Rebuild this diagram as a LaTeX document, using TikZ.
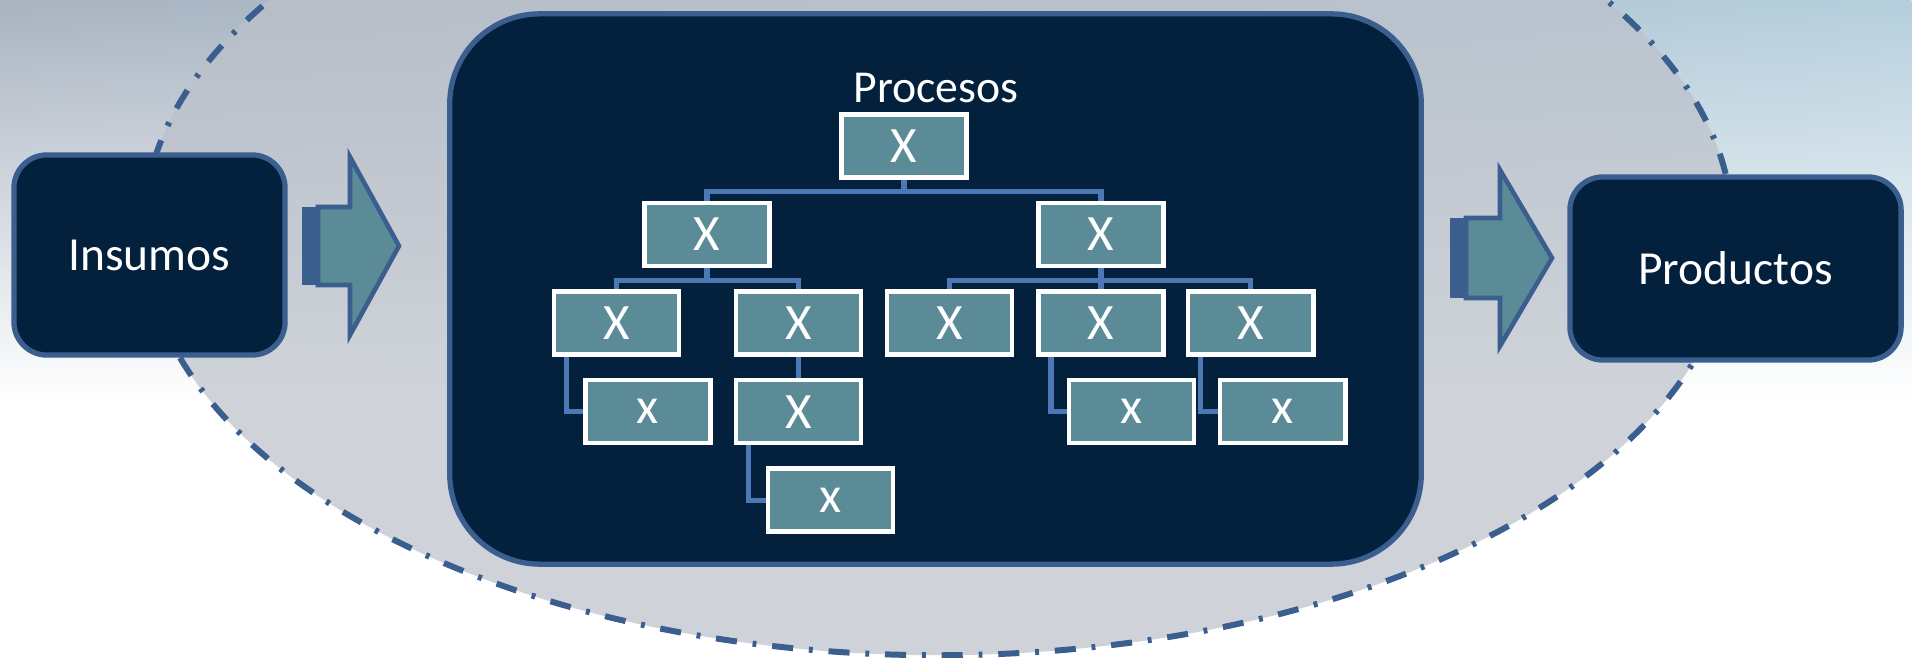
\documentclass[tikz,border=0pt]{standalone}
\usepackage{fontspec}
\setmainfont{Carlito}
\usetikzlibrary{fadings}

\definecolor{navy}{HTML}{03213C}
\definecolor{rim}{HTML}{3A5E8E}
\definecolor{tealbox}{HTML}{5A8B97}
\definecolor{linkblue}{HTML}{4C79B5}
\definecolor{bgleft}{HTML}{A9B3C1}
\definecolor{bgright}{HTML}{B6CFDD}
\definecolor{dotfill}{HTML}{BCC1CA}
\tikzfading[name=fade down, top color=transparent!0, bottom color=transparent!100]

\begin{document}
\begin{tikzpicture}[x=0.01cm, y=-0.01cm, node distance=0.885cm,
	box/.style={draw=rim, line width=1.5pt, fill=navy, rounded corners=0.33cm, text=white, font=\fontsize{13.5}{16}\selectfont},
	tbox/.style={draw=white, line width=1.3pt, fill=tealbox, minimum width=1.25cm, minimum height=0.63cm, inner sep=0pt, text=white, font=\fontsize{14.5}{16}\selectfont},
	link/.style={draw=linkblue, line width=1.5pt},
	blockarrow/.style={draw=rim, line width=1.3pt, fill=tealbox, line join=miter}]
		\useasboundingbox (0,0) rectangle (1912,658);
		\fill[white] (0,0) rectangle (1912,658);
		\shade[left color=bgleft, right color=bgright, path fading=fade down] (0,0) rectangle (1912,400);
		\fill[dotfill, fill opacity=0.7] (938,230) ellipse [x radius=7.94cm, y radius=4.25cm];
		\draw[rim, line width=1.7pt, dash pattern=on 6pt off 4.5pt on 1.1pt off 4.5pt] (938,230) ellipse [x radius=7.94cm, y radius=4.25cm];

		\fill[rim] (302,207) rectangle (322,285);
		\draw[blockarrow] (318,207) -- (350,207) -- (350,157) -- (399,246) -- (350,335) -- (350,285) -- (318,285) -- cycle;
		\fill[rim] (1450,218) rectangle (1470,298);
		\draw[blockarrow] (1466,218) -- (1500,218) -- (1500,170) -- (1552,258) -- (1500,346) -- (1500,298) -- (1466,298) -- cycle;

		\node[box, minimum width=2.71cm, minimum height=2.00cm] (ins) at (149.5,255) {Insumos};
		\node[box, minimum width=3.31cm, minimum height=1.83cm] (prod) at (1735.5,268.5) {Productos};
		\node[box, rounded corners=0.9cm, minimum width=9.71cm, minimum height=5.50cm] (proc) at (935.5,289) {};
		\node[text=white, font=\fontsize{13}{16}\selectfont, anchor=base] (ttl) at (936,103) {Procesos};

		\node[tbox] (root) at (904,146) {X};
		\node[tbox] (l1a) [below of=root, xshift=-1.97cm] {X};
		\node[tbox] (l1b) [below of=root, xshift=1.97cm] {X};
		\node[tbox] (l2a) [below of=l1a, xshift=-0.905cm] {X};
		\node[tbox] (l2b) [below of=l1a, xshift=0.915cm] {X};
		\node[tbox] (l2c) [below of=l1b, xshift=-1.515cm] {X};
		\node[tbox] (l2d) [below of=l1b] {X};
		\node[tbox] (l2e) [below of=l1b, xshift=1.495cm] {X};
		\node[tbox] (l3a) [below of=l2a, xshift=0.315cm] {x};
		\node[tbox] (l3b) [below of=l2b] {X};
		\node[tbox] (l3d) [below of=l2d, xshift=0.305cm] {x};
		\node[tbox] (l3e) [below of=l2e, xshift=0.32cm] {x};
		\node[tbox] (l4b) [below of=l3b, xshift=0.32cm] {x};

		\draw[link] (root.south) -- ++(0,12) -| (l1a.north);
		\draw[link] (root.south) -- ++(0,12) -| (l1b.north);
		\draw[link] (l1a.south) -- ++(0,12) -| (l2a.north);
		\draw[link] (l1a.south) -- ++(0,12) -| (l2b.north);
		\draw[link] (l1b.south) -- ++(0,12) -| (l2c.north);
		\draw[link] (l1b.south) -- (l2d.north);
		\draw[link] (l1b.south) -- ++(0,12) -| (l2e.north);
		\draw[link] ([xshift=-0.5cm]l2a.south) |- (l3a.west);
		\draw[link] (l2b.south) -- (l3b.north);
		\draw[link] ([xshift=-0.5cm]l2d.south) |- (l3d.west);
		\draw[link] ([xshift=-0.5cm]l2e.south) |- (l3e.west);
		\draw[link] ([xshift=-0.5cm]l3b.south) |- (l4b.west);
\end{tikzpicture}
\end{document}
